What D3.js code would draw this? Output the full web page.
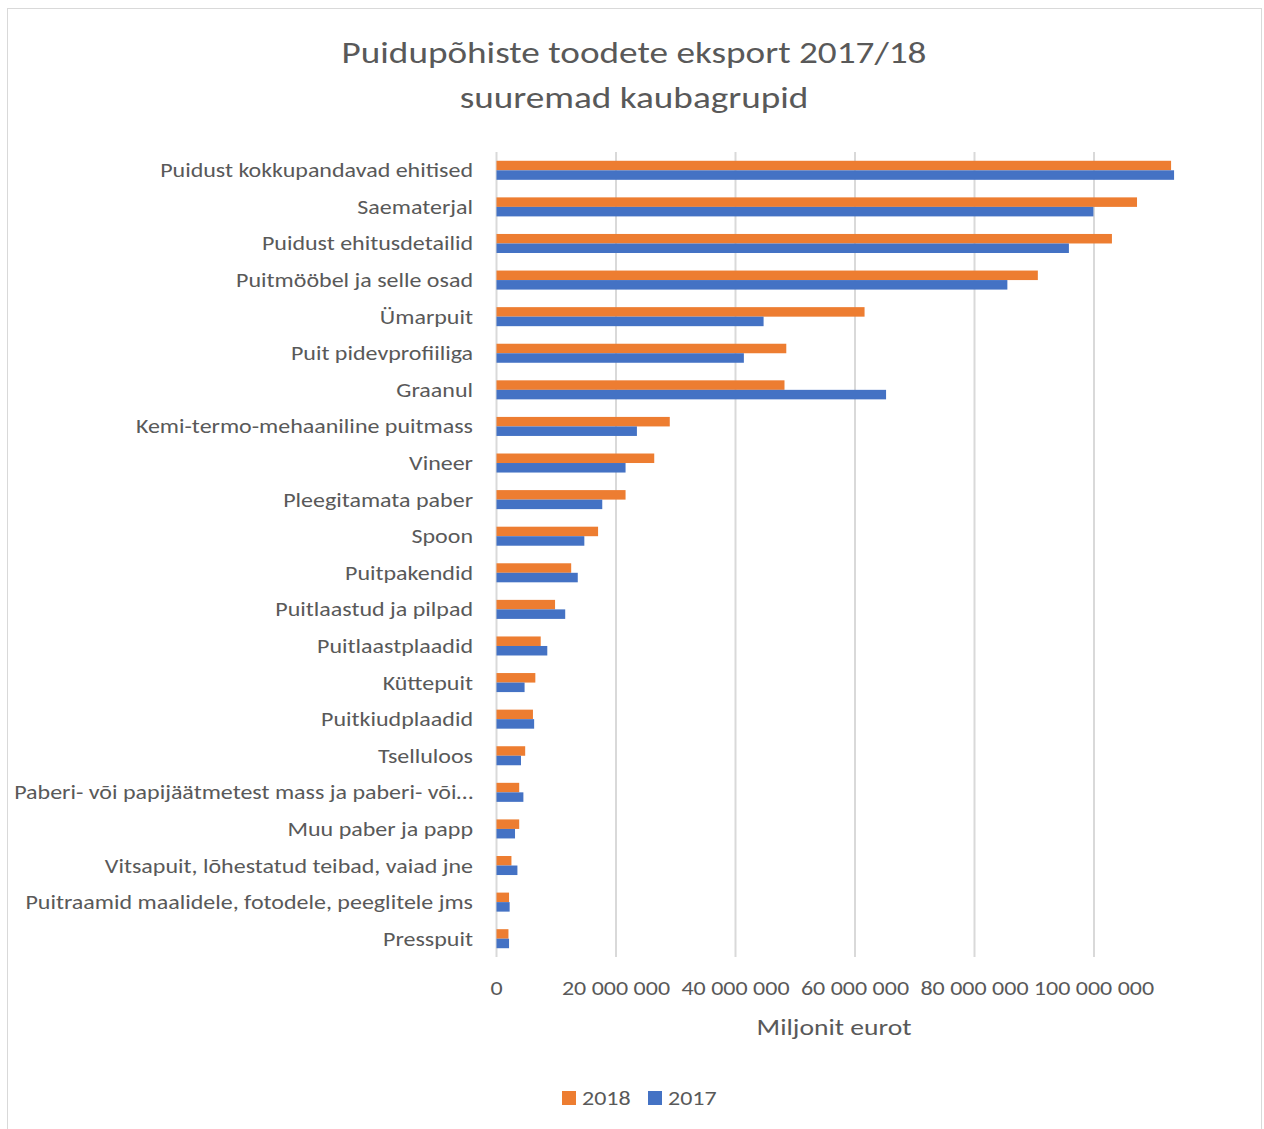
<!DOCTYPE html>
<html><head><meta charset="utf-8">
<script src="https://cdn.jsdelivr.net/npm/d3@7"></script>
<style>
html,body{margin:0;padding:0;background:#fff;}
svg{display:block;font-family:Carlito,Calibri,Lato,"Open Sans",sans-serif;}
</style></head>
<body>
<svg id="chart" width="1264" height="1129"></svg>
<script>
const categories = [
 "Puidust kokkupandavad ehitised","Saematerjal","Puidust ehitusdetailid","Puitmööbel ja selle osad",
 "Ümarpuit","Puit pidevprofiiliga","Graanul","Kemi-termo-mehaaniline puitmass","Vineer",
 "Pleegitamata paber","Spoon","Puitpakendid","Puitlaastud ja pilpad","Puitlaastplaadid",
 "Küttepuit","Puitkiudplaadid","Tselluloos","Paberi- või papijäätmetest mass ja paberi- või…",
 "Muu paber ja papp","Vitsapuit, lõhestatud teibad, vaiad jne","Puitraamid maalidele, fotodele, peeglitele jms","Presspuit"
];
const values2018 = [112.9,107.2,103.0,90.6,61.6,48.5,48.2,29.0,26.4,21.6,17.0,12.5,9.8,7.4,6.5,6.1,4.8,3.8,3.8,2.5,2.1,2.0].map(v=>v*1e6);
const values2017 = [113.4,99.9,95.8,85.5,44.7,41.4,65.2,23.5,21.6,17.7,14.7,13.6,11.5,8.5,4.7,6.3,4.1,4.5,3.1,3.5,2.2,2.1].map(v=>v*1e6);
const series = ["2018","2017"];
const colors = ["#ED7D31","#4472C4"];
const tickValues = [0,20e6,40e6,60e6,80e6,100e6];
const tickLabels = ["0","20 000 000","40 000 000","60 000 000","80 000 000","100 000 000"];
const titleLines = ["Puidupõhiste toodete eksport 2017/18","suuremad kaubagrupid"];
const axisTitle = "Miljonit eurot";

const svg = d3.select("#chart");
const textColor = "#595959";
const SX = 1.2; // horizontal stretch of the reference's text

function stretchedText(sel, xf, yf, anchor, size, weight, txt){
  const gg = sel.append("g").attr("transform",(d,i)=>`translate(${xf(d,i)},${yf(d,i)}) scale(${SX},1)`);
  gg.append("text").attr("text-anchor",anchor).attr("fill",textColor)
    .attr("font-size",size).attr("font-weight",weight).text(txt);
  return gg;
}

// chart border
svg.append("rect").attr("x",7.5).attr("y",8.5).attr("width",1254).attr("height",1130)
  .attr("fill","none").attr("stroke","#d9d9d9").attr("stroke-width",1);

const x = d3.scaleLinear().domain([0,100e6]).range([496.5,1094]);
const y = d3.scaleBand().domain(categories).range([152,957]).paddingInner(0.48).paddingOuter(0.24);
const sub = d3.scaleBand().domain(series).range([0,y.bandwidth()]);

// gridlines
svg.append("g").selectAll("line").data(tickValues).join("line")
  .attr("x1",d=>x(d)).attr("x2",d=>x(d)).attr("y1",152).attr("y2",957)
  .attr("stroke","#d9d9d9").attr("stroke-width",2);

// bars
const data = categories.map((c,i)=>({c, v:[values2018[i],values2017[i]]}));
const g = svg.append("g").selectAll("g").data(data).join("g")
  .attr("transform",d=>`translate(0,${y(d.c)})`);
g.selectAll("rect").data(d=>d.v.map((v,j)=>({v,s:series[j],j}))).join("rect")
  .attr("x",x(0)).attr("y",d=>sub(d.s)).attr("height",sub.bandwidth())
  .attr("width",d=>x(d.v)-x(0)).attr("fill",d=>colors[d.j]);

// category labels
const catSel = svg.append("g").selectAll("g.cat").data(categories).join("g").attr("class","cat");
catSel.each(function(d){
  stretchedText(d3.select(this), ()=>473, ()=>y(d)+y.bandwidth()/2+7, "end", 20, 400, d);
});

// x tick labels
svg.append("g").selectAll("g.tick").data(tickValues).join("g").attr("class","tick")
  .each(function(d,i){
    stretchedText(d3.select(this), ()=>x(d), ()=>995, "middle", 20, 400, tickLabels[i]);
  });

// axis title
stretchedText(svg.append("g"), ()=>834, ()=>1035, "middle", 23, 400, axisTitle);

// title
titleLines.forEach((t,i)=>{
  stretchedText(svg.append("g"), ()=>634, ()=>63+i*45, "middle", 31, 300, t);
});

// legend
const leg = svg.append("g").selectAll("g.leg").data(series).join("g").attr("class","leg")
  .attr("transform",(d,i)=>`translate(${562+i*86},1091)`);
leg.append("rect").attr("width",14).attr("height",14).attr("fill",(d,i)=>colors[i]);
leg.each(function(d){
  stretchedText(d3.select(this), ()=>20, ()=>14, "start", 20, 400, d);
});
</script>
</body></html>
